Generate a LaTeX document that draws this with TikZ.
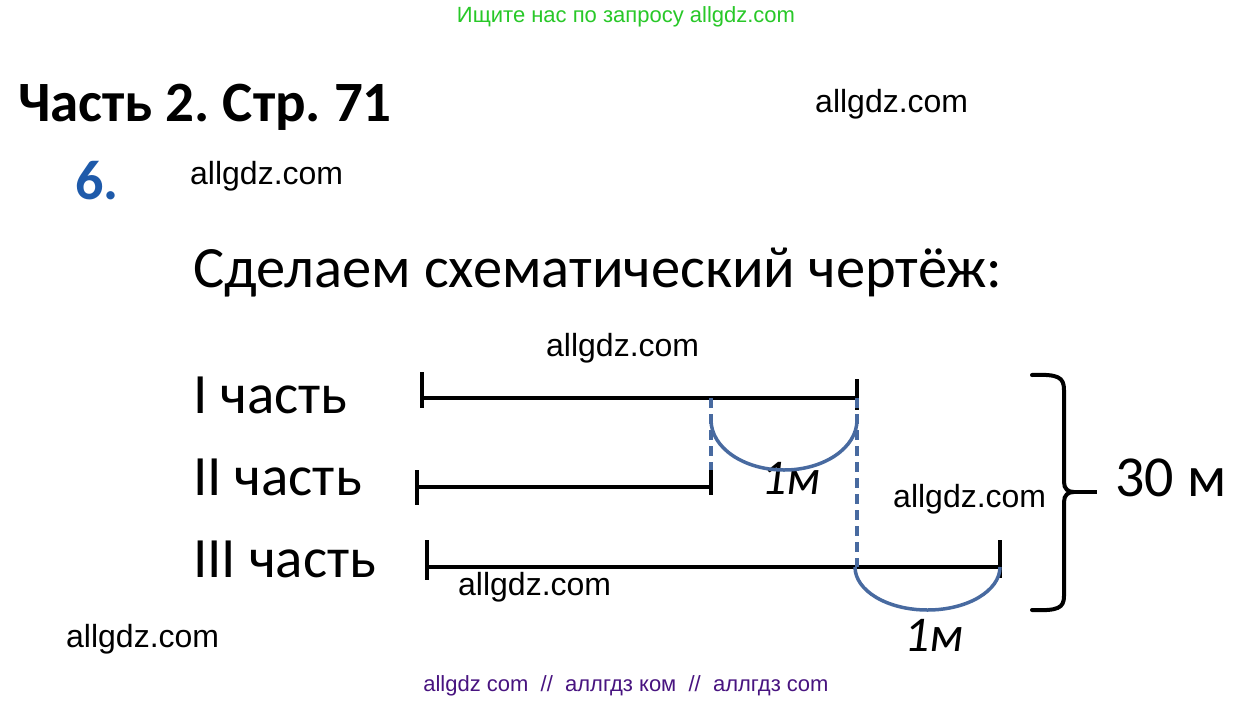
\documentclass[tikz,border=0pt]{standalone}
\usepackage{fontspec}
\setmainfont{Carlito}
\newfontfamily\wmfont{Liberation Sans}
\usetikzlibrary{positioning,calc}
\definecolor{gdzgreen}{RGB}{40,200,40}
\definecolor{gdzblue}{RGB}{30,90,170}
\definecolor{arcblue}{RGB}{72,106,160}
\definecolor{gdzpurple}{RGB}{72,20,128}
\frenchspacing
\begin{document}
\begin{tikzpicture}[x=1pt,y=1pt,
		txt/.style={anchor=base west,inner sep=0pt},
		wm/.style={txt,font=\wmfont\fontsize{32}{32}\selectfont},
		part/.style={txt,font=\fontsize{57}{57}\selectfont},
		len/.style={txt,font=\itshape\fontsize{50}{50}\selectfont},
		seg/.style={line width=4pt,black},
		arcb/.style={line width=3.5pt,arcblue},
		dsh/.style={arcb,dash pattern=on 10pt off 6pt}]
	\useasboundingbox[fill=white] (0,0) rectangle (1253,-702);
	% titles and watermarks
	\path 	(626,-22) 	node (top) 	[anchor=base,inner sep=0pt,font=\wmfont\fontsize{22}{22}\selectfont,text=gdzgreen] {Ищите нас по запросу allgdz.com}
	        (18,-121) 	node (head) [txt,font=\bfseries\fontsize{57}{57}\selectfont] {Часть 2. Стр. 71}
	        (815,-112) 	node (w1) 	[wm] {allgdz.com}
	        (75,-199) 	node (num) 	[txt,font=\bfseries\fontsize{56}{56}\selectfont,text=gdzblue] {6.}
	        (190,-184) 	node (w2) 	[wm] {allgdz.com}
	        (193,-287) 	node (task) [txt,font=\fontsize{58.5}{58.5}\selectfont] {Сделаем схематический чертёж:}
	        (546,-356) 	node (w3) 	[wm] {allgdz.com}
	        (893,-507) 	node (w4) 	[wm] {allgdz.com}
	        (458,-595) 	node (w5) 	[wm] {allgdz.com}
	        (66,-647) 	node (w6) 	[wm] {allgdz.com}
	        (626,-691) 	node (bot) 	[anchor=base,inner sep=0pt,font=\wmfont\fontsize{22}{22}\selectfont,text=gdzpurple] {allgdz com~~//~~аллгдз ком~~//~~аллгдз com};
	% parts
	\path 	(193,-413) 	node (p1) 	[part] {I часть}
	        (193,-495) 	node (p2) 	[part] {II часть}
	        (193,-577) 	node (p3) 	[part] {III часть}
	        (761,-494) 	node (m1) 	[len] {1м}
	        (904,-651) 	node (m2) 	[len] {1м}
	        (1115,-496) node (sum) 	[txt,font=\fontsize{58}{58}\selectfont] {30 м};
	\coordinate (s1a) at (422,-398);
	\coordinate (s1b) at (857,-398);
	\coordinate (s2a) at (417,-487);
	\coordinate (s2b) at (711,-487);
	\coordinate (s3a) at (427,-567);
	\coordinate (s3b) at (1000,-567);
	\draw [seg] (s1a) -- (s1b)  (s2a) -- (s2b)  (s3a) -- (s3b);
	\draw [seg] ([yshift=26]s1a) -- ([yshift=-10]s1a)  ([yshift=19]s1b) -- ([yshift=-12]s1b)
	            ([yshift=17]s2a) -- ([yshift=-18]s2a)  ([yshift=17]s2b) -- ([yshift=-8]s2b)
	            ([yshift=27]s3a) -- ([yshift=-13]s3a)  ([yshift=27]s3b) -- ([yshift=-11]s3b);
	% differences of 1 m
	\draw [dsh] (s1a -| s2b) -- ([yshift=17]s2b);
	\draw [dsh] (s1b) -- (s3a -| s1b);
	\draw [arcb] ([yshift=-22]s1a -| s2b) arc[start angle=180,end angle=360,x radius=73,y radius=50];
	\draw [arcb] ([xshift=-2]s3a -| s1b) arc[start angle=180,end angle=360,x radius=72.5,y radius=43];
	% brace
	\coordinate (bt) at (1032,-375);
	\coordinate (bb) at (1032,-610);
	\coordinate (tip) at (1097,-492);
	\draw [seg,line cap=round] (bt) .. controls (1058,-374) and (1064,-377) .. (1064,-390) -- (1064,-482)
	        .. controls (1064,-489) and (1068,-492) .. (1074,-492)
	        .. controls (1068,-492) and (1064,-495) .. (1064,-502) -- (1064,-596)
	        .. controls (1064,-608) and (1058,-611) .. (bb);
	\draw [seg] (1072,-492) -- (tip);
\end{tikzpicture}
\end{document}
